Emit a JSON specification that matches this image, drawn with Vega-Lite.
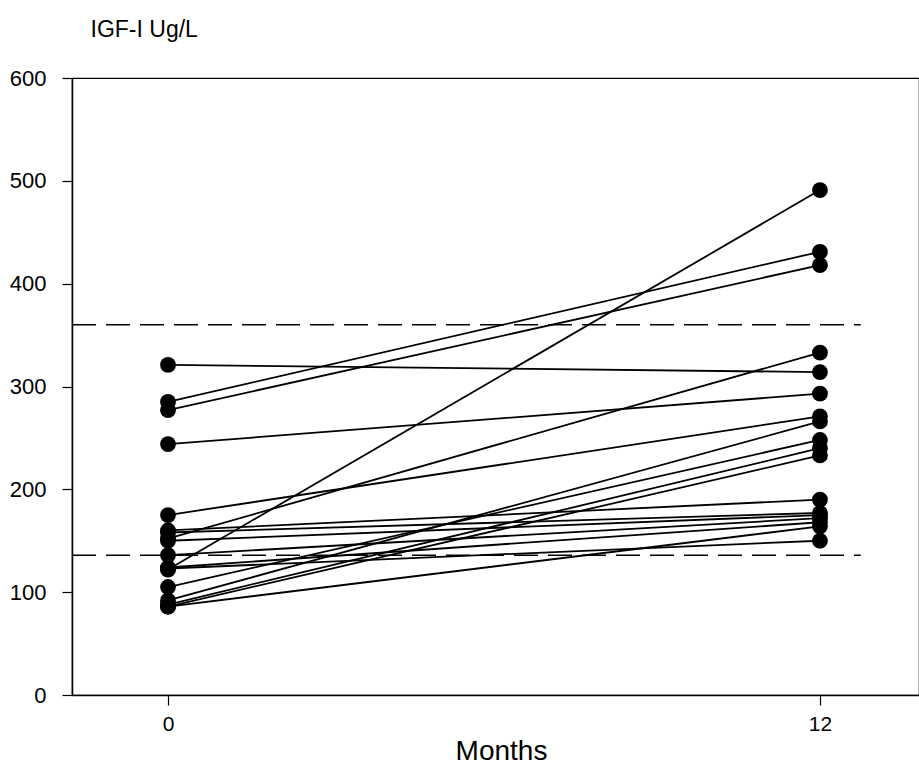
{
  "$schema": "https://vega.github.io/schema/vega-lite/v6.json",
  "autosize": "none",
  "width": 847,
  "height": 617,
  "padding": {"left": 72, "top": 78, "right": 0, "bottom": 72},
  "background": "white",
  "config": {
    "view": {"stroke": "black", "strokeWidth": 1.2},
    "font": "Liberation Sans",
    "axis": {"grid": false, "domainColor": "black", "tickColor": "black", "labelColor": "black", "titleColor": "black", "domainWidth": 1.5, "tickWidth": 1.2, "titleFontWeight": "normal", "labelFont": "Liberation Sans", "titleFont": "Liberation Sans"}
  },
  "datasets": {
    "igf": [
      {"id": 1, "month": 0, "igf": 321}, {"id": 1, "month": 12, "igf": 314},
      {"id": 2, "month": 0, "igf": 285}, {"id": 2, "month": 12, "igf": 431},
      {"id": 3, "month": 0, "igf": 277}, {"id": 3, "month": 12, "igf": 418},
      {"id": 4, "month": 0, "igf": 244}, {"id": 4, "month": 12, "igf": 293},
      {"id": 5, "month": 0, "igf": 175}, {"id": 5, "month": 12, "igf": 271},
      {"id": 6, "month": 0, "igf": 122}, {"id": 6, "month": 12, "igf": 491},
      {"id": 7, "month": 0, "igf": 152}, {"id": 7, "month": 12, "igf": 333},
      {"id": 8, "month": 0, "igf": 92}, {"id": 8, "month": 12, "igf": 266},
      {"id": 9, "month": 0, "igf": 105}, {"id": 9, "month": 12, "igf": 248},
      {"id": 10, "month": 0, "igf": 88}, {"id": 10, "month": 12, "igf": 240},
      {"id": 11, "month": 0, "igf": 86}, {"id": 11, "month": 12, "igf": 233},
      {"id": 12, "month": 0, "igf": 160}, {"id": 12, "month": 12, "igf": 190},
      {"id": 13, "month": 0, "igf": 86}, {"id": 13, "month": 12, "igf": 164},
      {"id": 14, "month": 0, "igf": 123}, {"id": 14, "month": 12, "igf": 150},
      {"id": 15, "month": 0, "igf": 158}, {"id": 15, "month": 12, "igf": 177},
      {"id": 16, "month": 0, "igf": 150}, {"id": 16, "month": 12, "igf": 175},
      {"id": 17, "month": 0, "igf": 136}, {"id": 17, "month": 12, "igf": 172},
      {"id": 18, "month": 0, "igf": 124}, {"id": 18, "month": 12, "igf": 168}
    ],
    "refs": [
      {"y": 360, "xa": -1.767, "xb": 12.75},
      {"y": 136, "xa": -1.767, "xb": 12.75}
    ]
  },
  "layer": [
    {
      "data": {"name": "refs"},
      "mark": {"type": "rule", "color": "black", "strokeWidth": 1.5, "strokeDash": [24, 10]},
      "encoding": {
        "x": {"field": "xa", "type": "quantitative"},
        "x2": {"field": "xb"},
        "y": {"field": "y", "type": "quantitative"}
      }
    },
    {
      "data": {"name": "igf"},
      "mark": {"type": "line", "color": "black", "strokeWidth": 1.8},
      "encoding": {
        "x": {"field": "month", "type": "quantitative"},
        "y": {"field": "igf", "type": "quantitative"},
        "detail": {"field": "id"}
      }
    },
    {
      "data": {"name": "igf"},
      "mark": {"type": "point", "shape": "circle", "filled": true, "color": "black", "opacity": 1, "size": 250},
      "encoding": {
        "x": {
          "field": "month", "type": "quantitative",
          "scale": {"domain": [-1.767, 13.823], "nice": false, "zero": false},
          "axis": {"values": [0, 12], "title": "Months", "titleFontSize": 28, "labelFontSize": 21, "tickSize": 10, "labelPadding": 8, "titlePadding": 3, "titleX": 429, "labelFlush": false}
        },
        "y": {
          "field": "igf", "type": "quantitative",
          "scale": {"domain": [0, 600], "nice": false},
          "axis": {"values": [0, 100, 200, 300, 400, 500, 600], "title": "IGF-I Ug/L", "titleAngle": 0, "titleAlign": "left", "titleBaseline": "alphabetic", "titleX": 18, "titleY": -42, "titleFontSize": 23, "labelFontSize": 22, "tickSize": 10, "labelPadding": 16}
        }
      }
    }
  ]
}
